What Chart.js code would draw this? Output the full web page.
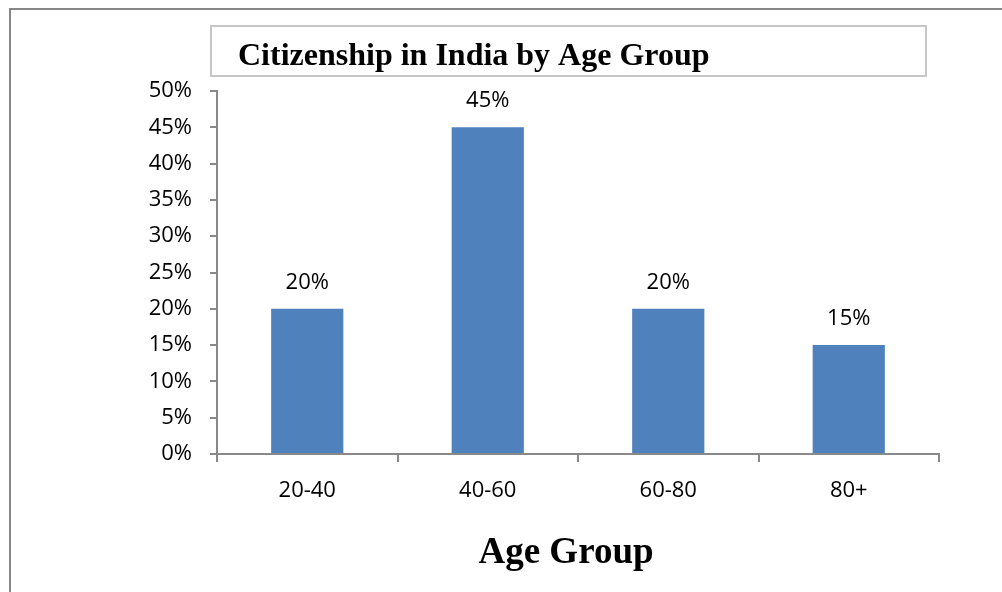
<!DOCTYPE html>
<html>
<head>
<meta charset="utf-8">
<script src="https://cdn.jsdelivr.net/npm/chart.js@4"></script>
<style>
  html, body { margin: 0; padding: 0; background: #fff; overflow: hidden; }
  #wrap { position: relative; width: 1002px; height: 592px; }
</style>
</head>
<body>
<div id="wrap"><canvas id="myChart"></canvas></div>
<script>
const chartTitle = "Citizenship in India by Age Group";
const axisTitle = "Age Group";
const ageGroups = ["20-40", "40-60", "60-80", "80+"];
const shares = [20, 45, 20, 15];
const yMax = 50;
const yStep = 5;

const labelFont = "'Open Sans', sans-serif";
const serifFont = "'Liberation Serif', 'Times New Roman', serif";
const axisGray = "#898989";

// frame, title box and axis title
const decorations = {
  id: "decorations",
  beforeDraw(chart) {
    const ctx = chart.ctx;
    ctx.save();
    ctx.fillStyle = "#fff";
    ctx.fillRect(0, 0, chart.width, chart.height);
    ctx.strokeStyle = "#878787";
    ctx.lineWidth = 2;
    ctx.strokeRect(10, 9, 1100, 700);
    ctx.strokeStyle = "#c6c6c6";
    ctx.strokeRect(211, 26, 715, 50);
    ctx.restore();
  },
  afterDraw(chart) {
    const ctx = chart.ctx;
    ctx.save();
    ctx.fillStyle = "#000";
    ctx.textBaseline = "alphabetic";
    ctx.textAlign = "left";
    ctx.font = "bold 32px " + serifFont;
    ctx.fillText(chartTitle, 238, 65);
    ctx.textAlign = "center";
    ctx.font = "bold 37px " + serifFont;
    ctx.fillText(axisTitle, 566, 563);
    ctx.restore();
  }
};

// value labels above each bar
const valueLabels = {
  id: "valueLabels",
  afterDatasetsDraw(chart) {
    const ctx = chart.ctx;
    const meta = chart.getDatasetMeta(0);
    ctx.save();
    ctx.fillStyle = "#000";
    ctx.font = "22px " + labelFont;
    ctx.textAlign = "center";
    ctx.textBaseline = "alphabetic";
    meta.data.forEach((bar, i) => {
      ctx.fillText(shares[i] + "%", bar.x, bar.y - 20);
    });
    ctx.restore();
  }
};

const chartData = {
  labels: ageGroups,
  datasets: [{
    data: shares,
    backgroundColor: "#4f81bd",
    borderWidth: 0,
    barPercentage: 0.4,
    categoryPercentage: 1
  }]
};

const chartOptions = {
  responsive: true,
  maintainAspectRatio: false,
  animation: false,
  layout: {
    padding: { left: 0, top: 91, right: 63, bottom: 0 }
  },
  plugins: {
    legend: { display: false },
    tooltip: { enabled: false }
  },
  scales: {
    x: {
      afterFit(scale) { scale.height = 138; },
      grid: {
        drawOnChartArea: false,
        drawTicks: true,
        tickLength: 8,
        color: axisGray,
        lineWidth: 2
      },
      border: { display: true, color: axisGray, width: 2 },
      ticks: {
        color: "#000",
        font: { family: labelFont, size: 22 },
        padding: 16
      }
    },
    y: {
      min: 0,
      max: yMax,
      afterFit(scale) { scale.width = 217; },
      grid: {
        drawOnChartArea: false,
        drawTicks: true,
        tickLength: 7,
        color: axisGray,
        lineWidth: 2
      },
      border: { display: true, color: axisGray, width: 2 },
      ticks: {
        stepSize: yStep,
        color: "#000",
        font: { family: labelFont, size: 22 },
        padding: 18,
        callback: v => v + "%"
      }
    }
  }
};

const ctx = document.getElementById("myChart").getContext("2d");
const myChart = new Chart(ctx, {
  type: "bar",
  data: chartData,
  options: chartOptions,
  plugins: [decorations, valueLabels]
});
</script>
</body>
</html>
